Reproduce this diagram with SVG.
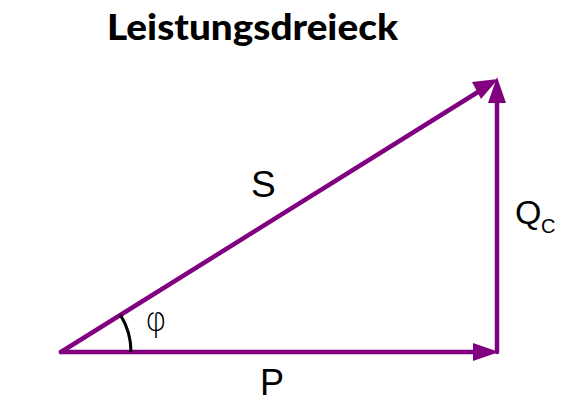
<svg xmlns="http://www.w3.org/2000/svg" width="574" height="410" viewBox="0 0 574 410">
<style>
.v{stroke:#800080;stroke-width:4.5;fill:none;stroke-linecap:round}
.h{fill:#800080}
.lbl{font-family:"Liberation Sans",Arial,sans-serif;fill:#000}
</style>
<rect width="574" height="410" fill="#fff"/>
<text x="107" y="40" font-family="Lato,'Open Sans',sans-serif" font-weight="900" font-size="36" textLength="291" lengthAdjust="spacingAndGlyphs">Leistungsdreieck</text>
<g id="connectors">
<g id="P-vec"><line class="v" x1="61" y1="352" x2="476" y2="352"/><polygon class="h" points="473,343 499,352 473,361"/></g>
<g id="Q-vec"><line class="v" x1="497" y1="352" x2="497" y2="100"/><polygon class="h" points="488,103 497,77 506,103"/></g>
<g id="S-vec"><line class="v" x1="61" y1="352" x2="478" y2="92"/><polygon class="h" points="472,82 498,79 481,99"/></g>
</g>
<path d="M120.4,314.9 A70,70 0 0 1 131,352" fill="none" stroke="#000" stroke-width="3"/>
<text x="145" y="331" font-family="'DejaVu Sans',sans-serif" font-size="33" font-weight="300" fill="#000">φ</text>
<text class="lbl" x="251" y="197" font-size="37">S</text>
<text class="lbl" x="260" y="395" font-size="36">P</text>
<text class="lbl" x="515" y="224" font-size="34">Q<tspan font-size="20" x="541" y="233">C</tspan></text>
</svg>
